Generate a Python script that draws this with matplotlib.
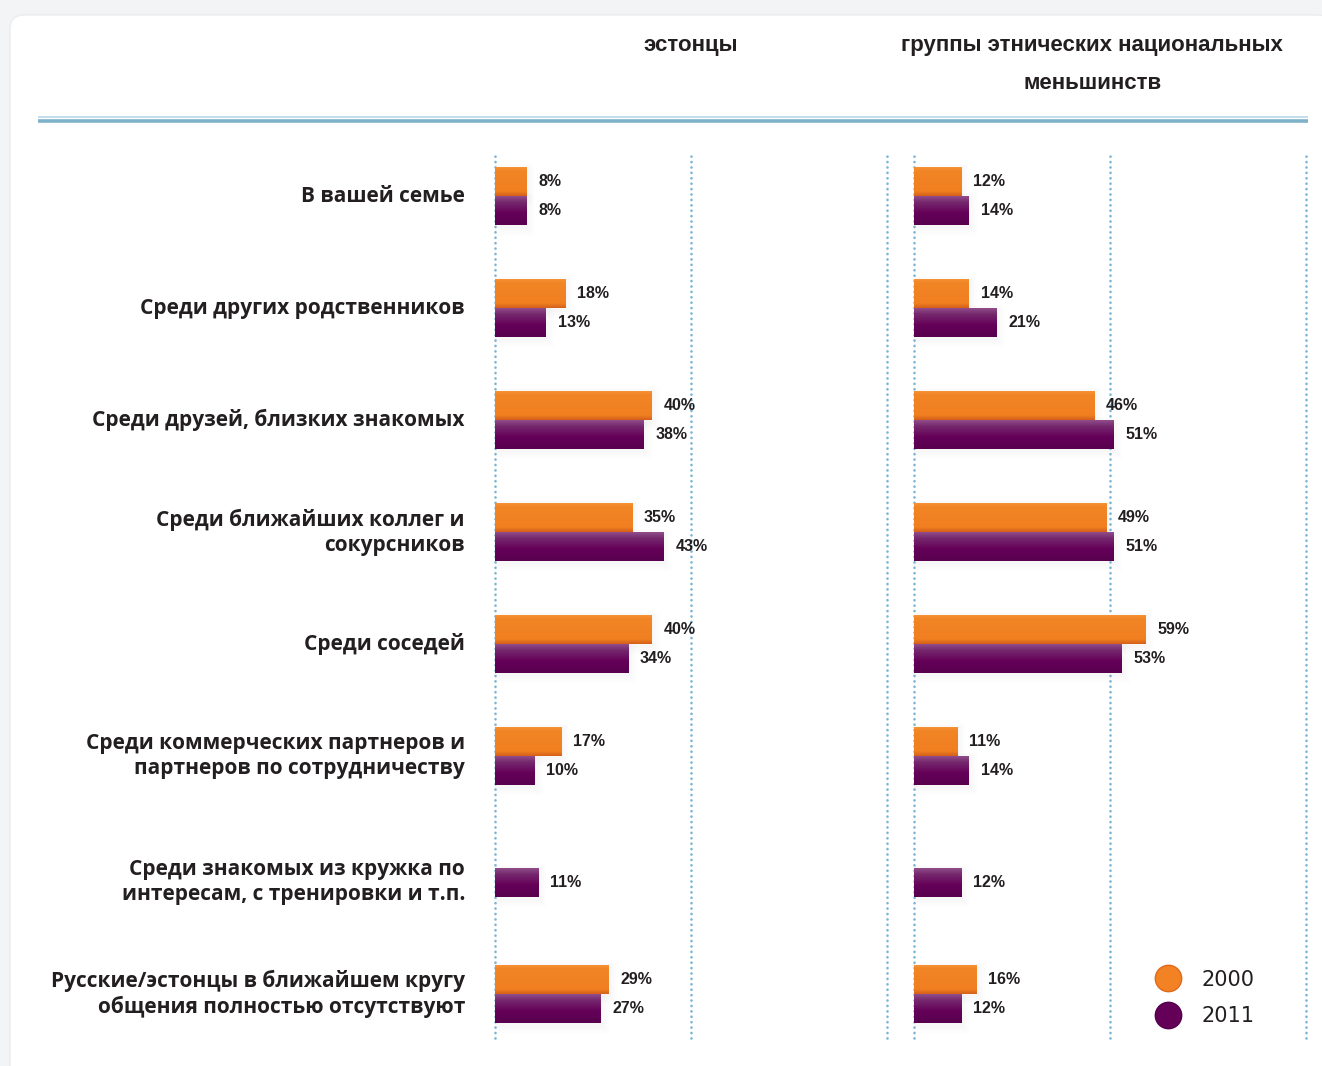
import numpy as np
import matplotlib.pyplot as plt
from matplotlib.colors import LinearSegmentedColormap
from matplotlib.lines import Line2D
from matplotlib.patches import FancyBboxPatch, Rectangle

categories = [
    'В вашей семье',
    'Среди других родственников',
    'Среди друзей, близких знакомых',
    'Среди ближайших коллег и\nсокурсников',
    'Среди соседей',
    'Среди коммерческих партнеров и\nпартнеров по сотрудничеству',
    'Среди знакомых из кружка по\nинтересам, с тренировки и т.п.',
    'Русские/эстонцы в ближайшем кругу\nобщения полностью отсутствуют',
]
panel_titles = ['эстонцы', 'группы этнических национальных\nменьшинств']
years = ['2000', '2011']

est_2000 = [8, 18, 40, 35, 40, 17, np.nan, 29]
est_2011 = [8, 13, 38, 43, 34, 10, 11, 27]
min_2000 = [12, 14, 46, 49, 59, 11, np.nan, 16]
min_2011 = [14, 21, 51, 51, 53, 14, 12, 12]

ORANGE = '#F28224'
PURPLE = '#650058'
TXT = '#231f20'
cm_orange = LinearSegmentedColormap.from_list(
    'o', [(0, '#F7973A'), (0.15, '#F28526'), (0.85, '#F07F20'), (1, '#D5601A')])
cm_purple = LinearSegmentedColormap.from_list(
    'p', [(0, '#94548F'), (0.22, '#772A6F'), (0.6, '#650059'), (1, '#58004E')])

BOLD = ['Open Sans', 'DejaVu Sans']
NARROW = ['Liberation Sans', 'DejaVu Sans']

W, H = 1322, 1066
fig = plt.figure(figsize=(W / 100, H / 100), dpi=100, facecolor='#f3f4f5')

# background card + separator in pixel coordinates
bg = fig.add_axes([0, 0, 1, 1], zorder=-5)
bg.set_xlim(0, W)
bg.set_ylim(H, 0)
bg.axis('off')
bg.add_patch(FancyBboxPatch((10, 15), W, H, boxstyle='round,pad=0,rounding_size=14',
                            facecolor='white', edgecolor='#ebeced', lw=1))
bg.plot([38, 1308], [117, 117], color='#b9d9e7', lw=1.2, solid_capstyle='butt')
bg.plot([38, 1308], [120.5, 120.5], color='#7db2ca', lw=2.6, solid_capstyle='butt')

ypos = np.arange(len(categories), dtype=float)
ypos[-1] += 0.125
bh = 0.26
ylim = (7.52, -0.385)


def gradient_bars(ax, y, vals, cmap, color):
    bars = ax.barh(y, vals, height=bh, color=color, zorder=3, lw=0)
    grad = np.linspace(0, 1, 64).reshape(-1, 1)
    for b in bars:
        w = b.get_width()
        if not np.isfinite(w) or w == 0:
            continue
        y0 = b.get_y()
        y1 = y0 + b.get_height()
        # soft shadow
        for k in range(1, 5):
            ax.add_patch(Rectangle((-0.3 * k, y0 - 0.012 * k + 0.02), w + 0.8 * k,
                                   bh + 0.03 * k, facecolor='#a3acb4', alpha=0.02,
                                   lw=0, zorder=2))
        im = ax.imshow(grad, extent=[0, w, y1, y0], cmap=cmap, aspect='auto',
                       zorder=4, interpolation='bilinear')
        im.set_clip_path(b)
    return bars


def draw_panel(left_px, v2000, v2011, title, title_x):
    ax = fig.add_axes([left_px / W, 1 - 1038 / H, 392 / W, 885 / H])
    ax.set_xlim(0, 100)
    ax.axis('off')
    for x in (0, 50, 100):
        ax.axvline(x, color='#7ab5d5', lw=1.9, ls=(0, (0.05, 2.0)),
                   dash_capstyle='round', zorder=1, clip_on=False)
    gradient_bars(ax, ypos - bh / 2, v2000, cm_orange, ORANGE)
    gradient_bars(ax, ypos + bh / 2, v2011, cm_purple, PURPLE)
    for vals, off in ((v2000, -bh / 2), (v2011, bh / 2)):
        for y, v in zip(ypos, vals):
            if np.isfinite(v):
                ax.text(v + 3, y + off, f'{v:.0f}%', ha='left', va='center',
                        fontsize=11.5, fontweight='bold', family=NARROW,
                        color=TXT, zorder=5)
    ax.set_ylim(*ylim)
    ax.text(title_x, 1.0 + (153 - 35) / 885, title, transform=ax.transAxes,
            ha='center', va='top', fontsize=16, fontweight='bold',
            family=NARROW, color=TXT, linespacing=2.05)
    return ax


ax1 = draw_panel(495, est_2000, est_2011, panel_titles[0], 0.5)
ax2 = draw_panel(914, min_2000, min_2011, panel_titles[1], 0.455)

# category labels centred on the bars that are present
for y, lab, a, b in zip(ypos, categories, est_2000, est_2011):
    offs = [o for v, o in ((a, -bh / 2), (b, bh / 2)) if np.isfinite(v)]
    ax1.text(-30 / 3.92, y + np.mean(offs) if len(offs) == 1 else y, lab,
             ha='right', va='center', fontsize=15, fontweight='bold',
             family=BOLD, color=TXT, linespacing=1.25)

handles = [Line2D([], [], marker='o', ls='', markersize=19,
                  markerfacecolor=c, markeredgecolor=e, markeredgewidth=1)
           for c, e in ((ORANGE, '#E06A1C'), (PURPLE, '#55004a'))]
fig.legend(handles, years, loc='center left', frameon=False,
           bbox_to_anchor=(1145 / W, 1 - 998 / H), fontsize=15,
           handletextpad=1.0, labelspacing=0.8, borderpad=0, handlelength=1.2,
           labelcolor=TXT)

fig.savefig('out.png', dpi=100, facecolor=fig.get_facecolor())
